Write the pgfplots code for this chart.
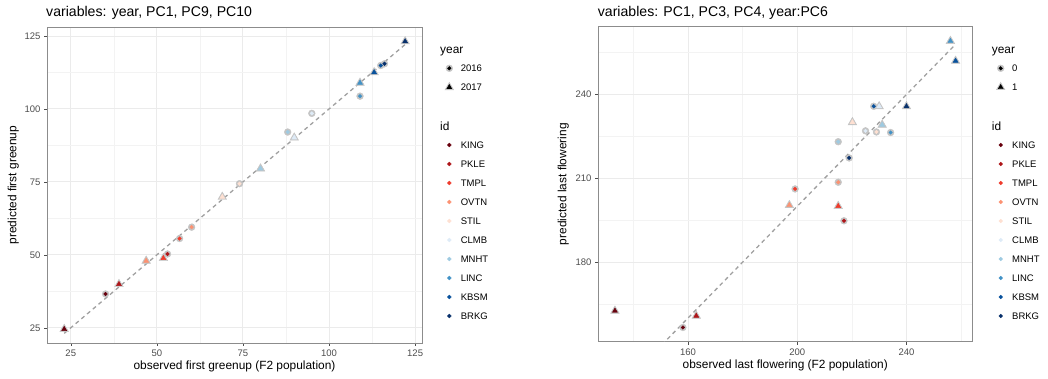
\documentclass[border=0pt]{standalone}
\usepackage{fontspec}
\setmainfont{Liberation Sans}
\usepackage{pgfplots}
\usepackage{pgfplotstable}
\pgfplotsset{compat=1.18}

% site colours
\definecolor{cKING}{HTML}{67000D}
\definecolor{cPKLE}{HTML}{AE1519}
\definecolor{cTMPL}{HTML}{EF3B2C}
\definecolor{cOVTN}{HTML}{FC9272}
\definecolor{cSTIL}{HTML}{FEE0D2}
\definecolor{cCLMB}{HTML}{DEEBF7}
\definecolor{cMNHT}{HTML}{9ECAE1}
\definecolor{cLINC}{HTML}{4292C6}
\definecolor{cKBSM}{HTML}{08519C}
\definecolor{cBRKG}{HTML}{08306B}
% theme colours
\definecolor{ringgrey}{HTML}{C4C4C4}
\definecolor{refline}{HTML}{A0A0A0}
\definecolor{gridmaj}{HTML}{EBEBEB}
\definecolor{gridmin}{HTML}{F3F3F3}
\definecolor{framegrey}{HTML}{8C8C8C}
\definecolor{tickgrey}{HTML}{4D4D4D}

% first greenup, 2016 (circles) and 2017 (triangles)
\pgfplotstableread{
x y id
35.1 36.6 KING
53.1 50.3 PKLE
56.6 55.6 TMPL
60.1 59.5 OVTN
74.0 74.4 STIL
95.0 98.5 CLMB
88.0 92.1 MNHT
109.0 104.4 LINC
115.0 114.9 KBSM
116.1 115.5 BRKG
}\greenupA
\pgfplotstableread{
x y id
23.1 24.55 KING
39.0 39.95 PKLE
51.9 48.85 TMPL
46.9 47.95 OVTN
69.0 69.85 STIL
89.9 90.15 CLMB
80.1 79.55 MNHT
109.0 108.95 LINC
113.1 112.55 KBSM
122.1 123.15 BRKG
}\greenupB

% last flowering, year 0 (circles) and year 1 (triangles)
\pgfplotstableread{
x y id
158.1 156.6 KING
217.1 194.8 PKLE
199.2 206.2 TMPL
215.0 208.6 OVTN
229.0 226.6 STIL
225.0 227.0 CLMB
215.0 223.1 MNHT
234.2 226.4 LINC
228.0 235.8 KBSM
219.0 217.3 BRKG
}\floweringA
\pgfplotstableread{
x y id
133.2 162.55 KING
163.0 160.75 PKLE
215.0 200.05 TMPL
197.1 200.35 OVTN
220.2 230.05 STIL
230.0 235.75 CLMB
231.1 229.15 MNHT
256.1 259.15 LINC
258.0 252.05 KBSM
240.0 235.75 BRKG
}\floweringB

\pgfplotsset{
  panel/.style={
    scale only axis, anchor=south west,
    axis line style={framegrey, line width=0.8pt},
    tick align=outside, tick pos=left,
    major tick length=3pt, minor tick length=0pt,
    every tick/.style={tickgrey, line width=0.5pt},
    grid=both,
    major grid style={gridmaj, line width=1pt},
    minor grid style={gridmin, line width=0.6pt},
    ticklabel style={font=\fontsize{9.5}{11}\selectfont, text=tickgrey},
    /pgf/number format/assume math mode=true,
    xticklabel style={anchor=north, inner sep=0pt, text height=6.8pt, text depth=0pt, yshift=-3.5pt},
    yticklabel style={anchor=east, inner sep=0pt, xshift=-3.3pt},
    label style={font=\fontsize{11.9}{14}\selectfont},
  },
  leg/.style={legend style={at={(axis description cs:#1)}, anchor=north west,
    draw=none, fill=none, inner sep=0pt, outer sep=0pt,
    row sep=10pt, column sep=0pt,
    font=\fontsize{9.5}{11}\selectfont,
    cells={anchor=base west},
    nodes={inner sep=0pt, text height=9pt, text depth=0pt}}},
  idkey/.style={legend image code/.code={%
    \path[draw=none, fill=none] (-5pt,0pt) rectangle (5pt,9pt);
    \draw[#1] plot[mark=*, mark size=1.9pt] coordinates {(0pt,3.4pt)};}},
  circlekey/.style={legend image code/.code={%
    \path[draw=none, fill=none] (-5pt,0pt) rectangle (5pt,9pt);
    \draw[ringgrey] plot[mark=*, mark size=3.4pt] coordinates {(0pt,3.4pt)};
    \draw[black] plot[mark=*, mark size=1.8pt] coordinates {(0pt,3.4pt)};}},
  trianglekey/.style={legend image code/.code={%
    \path[draw=none, fill=none] (-5pt,0pt) rectangle (5pt,9pt);
    \draw[ringgrey] plot[mark=triangle*, mark size=5.0pt] coordinates {(0pt,3.4pt)};
    \draw[black] plot[mark=triangle*, mark size=2.9pt] coordinates {(0pt,3.4pt)};}},
  sites/.style={scatter, only marks, forget plot, point meta=explicit symbolic,
    scatter/classes={
      KING={draw=cKING,fill=cKING}, PKLE={draw=cPKLE,fill=cPKLE},
      TMPL={draw=cTMPL,fill=cTMPL}, OVTN={draw=cOVTN,fill=cOVTN},
      STIL={draw=cSTIL,fill=cSTIL}, CLMB={draw=cCLMB,fill=cCLMB},
      MNHT={draw=cMNHT,fill=cMNHT}, LINC={draw=cLINC,fill=cLINC},
      KBSM={draw=cKBSM,fill=cKBSM}, BRKG={draw=cBRKG,fill=cBRKG}}},
  ring/.style={only marks, forget plot, ringgrey},
  oneone/.style={forget plot, refline, line width=1.3pt, dash pattern=on 4pt off 3.5pt},
}

% gap between a legend key and its label
\newcommand{\legtext}[1]{\hspace*{6.5pt}#1}
\newcommand{\idlegend}{%
  \addlegendimage{idkey=cKING}\addlegendimage{idkey=cPKLE}
  \addlegendimage{idkey=cTMPL}\addlegendimage{idkey=cOVTN}
  \addlegendimage{idkey=cSTIL}\addlegendimage{idkey=cCLMB}
  \addlegendimage{idkey=cMNHT}\addlegendimage{idkey=cLINC}
  \addlegendimage{idkey=cKBSM}\addlegendimage{idkey=cBRKG}
  \legend{\legtext{KING},\legtext{PKLE},\legtext{TMPL},\legtext{OVTN},\legtext{STIL},
    \legtext{CLMB},\legtext{MNHT},\legtext{LINC},\legtext{KBSM},\legtext{BRKG}}}

\begin{document}
\begin{tikzpicture}
\useasboundingbox (0pt,0pt) rectangle (1048pt,379pt);

% ---------------- first greenup ----------------
\node[anchor=base west, inner sep=0pt, font=\fontsize{14.1}{17}\selectfont]
  at (46pt,362.3pt) {variables: year, PC1, PC9, PC10};
\begin{axis}[panel, at={(47pt,36pt)}, width=375pt, height=316pt,
  xmin=18.1, xmax=127.0, ymin=19.8, ymax=128.1,
  xtick={25,50,75,100,125}, ytick={25,50,75,100,125},
  minor xtick={37.5,62.5,87.5,112.5}, minor ytick={37.5,62.5,87.5,112.5},
  xlabel={observed first greenup (F2 population)},
  ylabel={predicted first greenup},
  xlabel style={at={(axis description cs:0.5,-0.075)}, anchor=center},
  ylabel style={at={(axis description cs:-0.0899,0.5)}, anchor=center},
  leg={1.0595,0.8870}]
  \addplot[oneone] coordinates {(23.1,23.1) (122.1,122.1)};
  \addplot[ring, mark=*, mark size=3.4pt] table[x=x,y=y] {\greenupA};
  \addplot[ring, mark=triangle*, mark size=5.0pt] table[x=x,y=y] {\greenupB};
  \addplot[sites, mark=*, mark size=1.8pt] table[x=x,y=y,meta=id] {\greenupA};
  \addplot[sites, mark=triangle*, mark size=2.9pt] table[x=x,y=y,meta=id] {\greenupB};
  \addlegendimage{circlekey}\addlegendimage{trianglekey}
  \legend{\legtext{2016},\legtext{2017}}
\end{axis}
\begin{axis}[at={(47pt,36pt)}, anchor=south west, scale only axis,
  width=375pt, height=316pt, hide axis, xmin=0, xmax=1, ymin=0, ymax=1,
  leg={1.0595,0.6443}]
  \idlegend
\end{axis}
\node[anchor=base west, inner sep=0pt, font=\fontsize{11.9}{14}\selectfont] at (440pt,325pt) {year};
\node[anchor=base west, inner sep=0pt, font=\fontsize{11.9}{14}\selectfont] at (440pt,248.7pt) {id};

% ---------------- last flowering ----------------
\node[anchor=base west, inner sep=0pt, font=\fontsize{14.1}{17}\selectfont]
  at (597.7pt,362.3pt) {variables: PC1, PC3, PC4, year:PC6};
\begin{axis}[panel, at={(598pt,37.3pt)}, width=374.5pt, height=315pt,
  xmin=127.0, xmax=264.2, ymin=151.5, ymax=264.3,
  xtick={160,200,240}, ytick={180,210,240},
  minor xtick={140,180,220,260}, minor ytick={165,195,225,255},
  xlabel={observed last flowering (F2 population)},
  ylabel={predicted last flowering},
  xlabel style={at={(axis description cs:0.5,-0.074)}, anchor=center},
  ylabel style={at={(axis description cs:-0.0927,0.5)}, anchor=center},
  leg={1.0619,0.8857}]
  \addplot[oneone] coordinates {(133.2,133.2) (258.0,258.0)};
  \addplot[ring, mark=*, mark size=3.4pt] table[x=x,y=y] {\floweringA};
  \addplot[ring, mark=triangle*, mark size=5.0pt] table[x=x,y=y] {\floweringB};
  \addplot[sites, mark=*, mark size=1.8pt] table[x=x,y=y,meta=id] {\floweringA};
  \addplot[sites, mark=triangle*, mark size=2.9pt] table[x=x,y=y,meta=id] {\floweringB};
  \addlegendimage{circlekey}\addlegendimage{trianglekey}
  \legend{\legtext{0},\legtext{1}}
\end{axis}
\begin{axis}[at={(598pt,37.3pt)}, anchor=south west, scale only axis,
  width=374.5pt, height=315pt, hide axis, xmin=0, xmax=1, ymin=0, ymax=1,
  leg={1.0619,0.6422}]
  \idlegend
\end{axis}
\node[anchor=base west, inner sep=0pt, font=\fontsize{11.9}{14}\selectfont] at (991.7pt,325pt) {year};
\node[anchor=base west, inner sep=0pt, font=\fontsize{11.9}{14}\selectfont] at (991.7pt,248.7pt) {id};
\end{tikzpicture}
\end{document}
